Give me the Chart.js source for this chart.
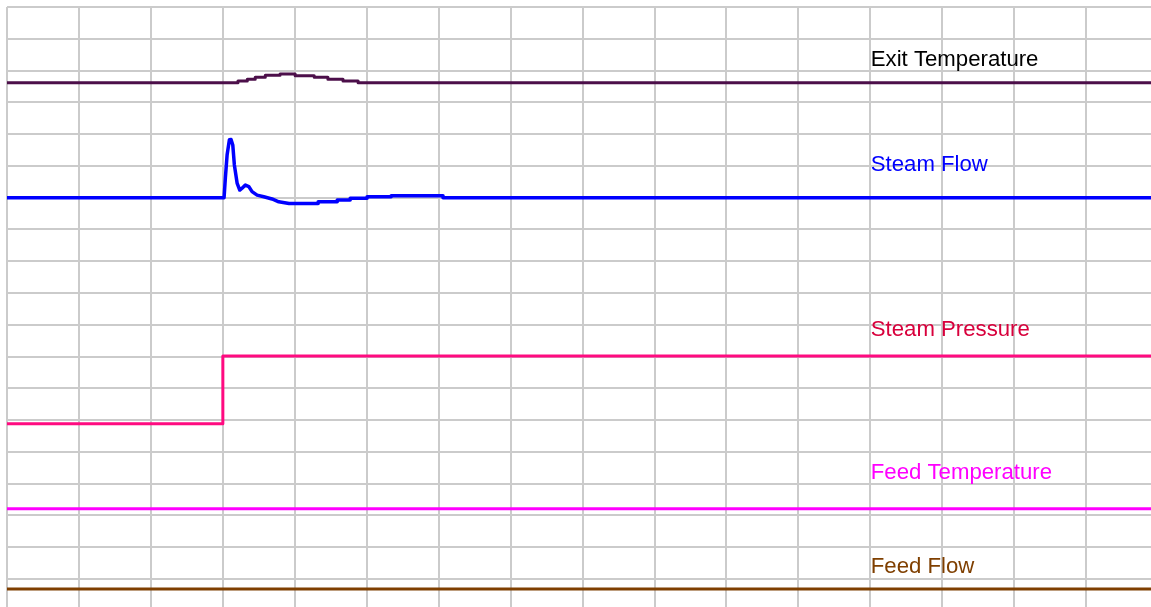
<!DOCTYPE html>
<html>
<head>
<meta charset="utf-8">
<script src="https://cdn.jsdelivr.net/npm/chart.js@4/dist/chart.umd.min.js"></script>
<style>
  html, body { margin: 0; padding: 0; background: #fff; overflow: hidden; }
  canvas { display: block; }
</style>
</head>
<body>
<canvas id="trend" width="1151" height="607"></canvas>
<script>
// time axis: one grid division = 10 s, values in trend display units
const seriesNames = ["Exit Temperature", "Steam Flow", "Steam Pressure", "Feed Temperature", "Feed Flow"];

const exitTempTime = [0, 32.1, 33.4, 34.5, 35.9, 37.95, 40.05, 42.7, 44.6, 46.7, 48.8, 159];
const exitTempVal = [15.62, 15.67, 15.73, 15.79, 15.85, 15.89, 15.84, 15.79, 15.73, 15.67, 15.62, 15.62];

// steam flow is drawn straight between samples; repeated times give the flat steps
const steamFlowTime = [0, 30.17, 30.35, 30.59, 30.91, 31.14, 31.38, 31.6, 31.98, 32.35, 32.67, 33.13,
  33.6, 34.06, 34.76, 35.69, 36.84, 37.77, 39.2, 43.25, 43.25, 45.9, 45.9, 47.7, 47.7, 50.05, 50.05,
  53.4, 53.4, 60.6, 60.6, 159];
const steamFlowVal = [12.0, 12.0, 12.62, 13.34, 13.82, 13.83, 13.66, 13.03, 12.46, 12.24, 12.3, 12.4,
  12.35, 12.19, 12.08, 12.03, 11.96, 11.87, 11.82, 11.82, 11.87, 11.87, 11.93, 11.93, 11.98, 11.98, 12.03,
  12.03, 12.06, 12.06, 12.0, 12.0];

const steamPressTime = [0, 30.0, 159];
const steamPressVal = [4.89, 7.02, 7.02];

const feedTempTime = [0, 159];
const feedTempVal = [2.21, 2.21];

const feedFlowTime = [0, 159];
const feedFlowVal = [-0.31, -0.31];

const lineColors = ["#4c0f4a", "#0000ff", "#ff0a80", "#ff00ff", "#7f3f00"];
const textColors = ["#000000", "#0000ff", "#d8003c", "#ff00ff", "#7f3f00"];

function pts(xs, ys) {
  return xs.map((x, i) => ({ x: x, y: ys[i] }));
}

// series captions sit in a column right of the 120 s line
const captionPlugin = {
  id: "captions",
  afterDatasetsDraw(chart, args, opts) {
    const ctx = chart.ctx;
    const xs = chart.scales.x, ys = chart.scales.y;
    ctx.save();
    ctx.font = "22.2px 'Liberation Sans', Arial, sans-serif";
    ctx.textAlign = "left";
    ctx.textBaseline = "alphabetic";
    opts.items.forEach((it, i) => {
      ctx.fillStyle = textColors[i];
      ctx.fillText(seriesNames[i], xs.getPixelForValue(opts.x), ys.getPixelForValue(it));
    });
    ctx.restore();
  }
};

const series = [
  pts(exitTempTime, exitTempVal),
  pts(steamFlowTime, steamFlowVal),
  pts(steamPressTime, steamPressVal),
  pts(feedTempTime, feedTempVal),
  pts(feedFlowTime, feedFlowVal)
];
const widths = [3, 3.5, 3, 3, 3];
const stepped = [true, false, true, true, true];

new Chart(document.getElementById("trend"), {
  type: "line",
  data: {
    datasets: series.map((d, i) => ({
      label: seriesNames[i],
      data: d,
      borderColor: lineColors[i],
      borderWidth: widths[i],
      borderJoinStyle: "round",
      pointRadius: 0,
      stepped: stepped[i],
      tension: 0,
      fill: false
    }))
  },
  options: {
    responsive: false,
    animation: false,
    events: [],
    layout: { padding: { left: 7, top: 7, right: 0, bottom: 0 } },
    plugins: {
      legend: { display: false },
      tooltip: { enabled: false },
      captions: { x: 120.05, items: [16.15, 12.85, 7.65, 3.15, 0.2] }
    },
    scales: {
      x: {
        type: "linear",
        min: 0,
        max: 159,
        border: { display: false },
        grid: { color: "#cbcbcb", lineWidth: 2, drawTicks: false },
        ticks: { display: false, stepSize: 10, includeBounds: false }
      },
      y: {
        type: "linear",
        min: -0.88,
        max: 18,
        border: { display: false },
        grid: { color: "#cbcbcb", lineWidth: 2, drawTicks: false },
        ticks: { display: false, stepSize: 1, includeBounds: false }
      }
    }
  },
  plugins: [captionPlugin]
});
</script>
</body>
</html>
